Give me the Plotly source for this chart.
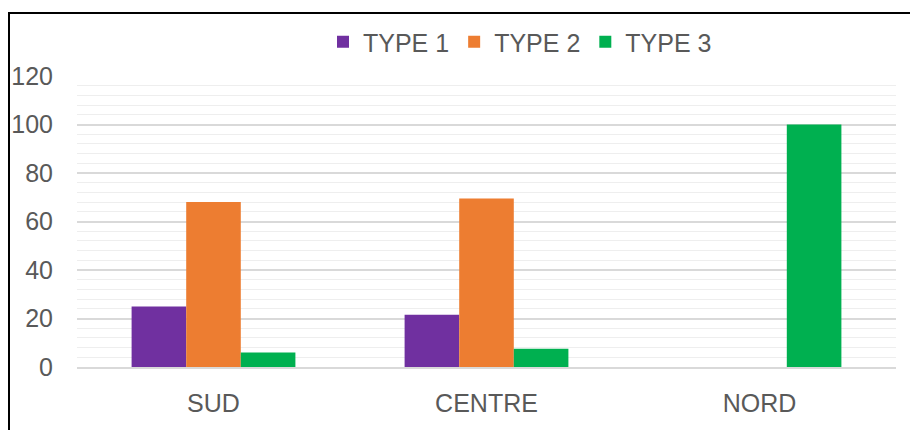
import plotly.graph_objects as go

categories = ["SUD", "CENTRE", "NORD"]
series_names = ["TYPE 1", "TYPE 2", "TYPE 3"]
type1 = [25, 21.5, 0]
type2 = [68, 69.5, 0]
type3 = [6, 7.5, 100]
colors = ["#7030A0", "#ED7D31", "#00B050"]
y_ticks = [0, 20, 40, 60, 80, 100, 120]

W, H = 910, 430
L, R, T, B = 77, 14, 76, 63
pw, ph = W - L - R, H - T - B

fig = go.Figure()
for name, vals, col in zip(series_names, [type1, type2, type3], colors):
    fig.add_trace(go.Bar(x=categories, y=vals, name=name,
                         marker=dict(color=col, line=dict(width=0))))

font = "Liberation Sans, Arial, sans-serif"
fig.update_layout(
    width=W, height=H,
    margin=dict(l=L, r=R, t=T, b=B, autoexpand=False),
    paper_bgcolor="white", plot_bgcolor="white",
    barmode="group", bargap=0.4, bargroupgap=0,
    font=dict(family=font, size=25, color="#595959"),
    showlegend=True,
    legend=dict(orientation="h", x=(323 - L) / pw, xanchor="left",
                y=(H - B - 19) / ph, yanchor="top",
                font=dict(size=25, color="#595959"),
                itemwidth=30, traceorder="normal",
                bgcolor="rgba(0,0,0,0)"),
    xaxis=dict(showgrid=False, showline=True, linecolor="#d9d9d9", linewidth=2,
               ticks="", ticklabelstandoff=13, tickfont=dict(size=25, color="#595959")),
    yaxis=dict(range=[0, 120], tickvals=y_ticks, showline=False, zeroline=False,
               showgrid=True, gridcolor="#d9d9d9", gridwidth=2,
               minor=dict(dtick=4, showgrid=True, gridcolor="#eeeeee", gridwidth=1),
               ticks="", ticklabelstandoff=23, tickfont=dict(size=25, color="#595959")),
    shapes=[dict(type="rect", xref="paper", yref="paper",
                 x0=(9 - L) / pw, x1=(W + 20 - L) / pw,
                 y0=(H - B - (H + 20)) / ph, y1=(H - B - 13) / ph,
                 line=dict(color="#000000", width=2), fillcolor="rgba(0,0,0,0)",
                 layer="above")],
)

fig.write_html("out.html", config={"displayModeBar": False},
               post_script="document.body.style.margin='0';")
